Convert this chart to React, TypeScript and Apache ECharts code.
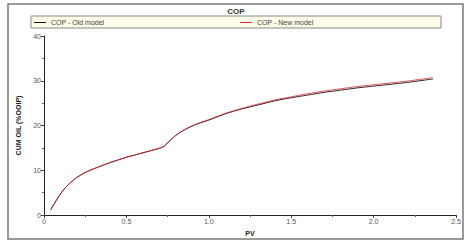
import React, { useEffect, useRef } from "react";
import * as echarts from "echarts";

const pvNew = [0.04, 0.08, 0.12, 0.16, 0.2, 0.25, 0.3, 0.35, 0.4, 0.45, 0.5, 0.55, 0.6, 0.65, 0.7, 0.73, 0.76, 0.8, 0.85, 0.9, 0.95, 1.0, 1.1, 1.2, 1.3, 1.4, 1.5, 1.6, 1.7, 1.8, 1.9, 2.0, 2.1, 2.2, 2.3, 2.36];
const oilNew = [1.1, 3.6, 5.7, 7.2, 8.4, 9.5, 10.3, 11.0, 11.7, 12.3, 12.9, 13.4, 13.9, 14.4, 14.9, 15.4, 16.5, 17.8, 19.0, 19.9, 20.7, 21.3, 22.7, 23.8, 24.8, 25.7, 26.4, 27.1, 27.7, 28.2, 28.7, 29.1, 29.5, 29.9, 30.4, 30.7];
const pvOld = [0.04, 0.08, 0.12, 0.16, 0.2, 0.25, 0.3, 0.35, 0.4, 0.45, 0.5, 0.55, 0.6, 0.65, 0.7, 0.73, 0.76, 0.8, 0.85, 0.9, 0.95, 1.0, 1.1, 1.2, 1.3, 1.4, 1.5, 1.6, 1.7, 1.8, 1.9, 2.0, 2.1, 2.2, 2.3, 2.36];
const oilOld = [1.1, 3.6, 5.7, 7.2, 8.4, 9.5, 10.3, 11.0, 11.7, 12.3, 12.9, 13.4, 13.9, 14.4, 14.9, 15.4, 16.5, 17.8, 19.0, 19.9, 20.6, 21.2, 22.6, 23.7, 24.6, 25.5, 26.2, 26.8, 27.4, 27.9, 28.4, 28.8, 29.2, 29.6, 30.1, 30.4];
const seriesNames = ["COP - Old model", "COP - New model"];

export default function App() {
  const ref = useRef<HTMLDivElement>(null);
  useEffect(() => {
    if (!ref.current) return;
    const chart = echarts.init(ref.current, null, { renderer: "svg" });
    const font = "Liberation Sans, Arial, sans-serif";
    const axisCommon = {
      type: "value" as const,
      nameLocation: "middle" as const,
      nameTextStyle: { fontFamily: font, fontSize: 7, fontWeight: "bold" as const, color: "#222" },
      axisLine: { show: true, lineStyle: { color: "#222", width: 1 } },
      axisTick: { show: true, inside: false, length: 3, lineStyle: { color: "#444" } },
      minorTick: { show: true, splitNumber: 2, length: 2, lineStyle: { color: "#666" } },
      splitLine: { show: false },
      axisLabel: { fontFamily: font, fontSize: 7, color: "#555", margin: 3 },
    };
    const legendCommon = {
      top: 19,
      icon: "rect",
      itemWidth: 12,
      itemHeight: 1,
      itemGap: 4,
      padding: 0,
      textStyle: { fontFamily: font, fontSize: 7, color: "#444" },
    };
    chart.setOption({
      animation: false,
      backgroundColor: "#fff",
      title: {
        text: "COP",
        left: 236,
        textAlign: "center",
        top: 7,
        padding: 0,
        textStyle: { fontFamily: font, fontSize: 8, fontWeight: "bold", color: "#333" },
      },
      graphic: [
        {
          type: "rect",
          shape: { x: 8, y: 4, width: 455, height: 235 },
          style: { fill: "none", stroke: "#7a7a7a", lineWidth: 1.5 },
          z: -10,
        },
        {
          type: "rect",
          shape: { x: 31, y: 16, width: 410, height: 12 },
          style: { fill: "#fefbe8", stroke: "#888", lineWidth: 1 },
          z: -5,
        },
      ],
      legend: [
        { ...legendCommon, data: [seriesNames[0]], left: 34 },
        { ...legendCommon, data: [seriesNames[1]], left: 240 },
      ],
      grid: { left: 44, right: 11, top: 36, bottom: 27 },
      xAxis: {
        ...axisCommon,
        name: "PV",
        nameGap: 13,
        min: 0,
        max: 2.5,
        interval: 0.5,
        axisLabel: { ...axisCommon.axisLabel, formatter: (v: number) => (v === 0 ? "0" : v.toFixed(1)) },
      },
      yAxis: {
        ...axisCommon,
        name: "CUM OIL (%OOIP)",
        nameGap: 15,
        min: 0,
        max: 40,
        interval: 10,
      },
      series: [
        {
          name: seriesNames[0],
          type: "line",
          smooth: 0.3,
          showSymbol: false,
          symbol: "none",
          data: pvOld.map((x, i) => [x, oilOld[i]]),
          lineStyle: { color: "#111", width: 0.9 },
          itemStyle: { color: "#111" },
        },
        {
          name: seriesNames[1],
          type: "line",
          smooth: 0.3,
          showSymbol: false,
          symbol: "none",
          data: pvNew.map((x, i) => [x, oilNew[i]]),
          lineStyle: { color: "#e0202a", width: 0.9, opacity: 0.85 },
          itemStyle: { color: "#e0202a" },
        },
      ],
    });
    return () => chart.dispose();
  }, []);
  return (
    <div
      ref={ref}
      style={{ position: "fixed", left: 0, top: 0, width: 467, height: 242 }}
    />
  );
}
